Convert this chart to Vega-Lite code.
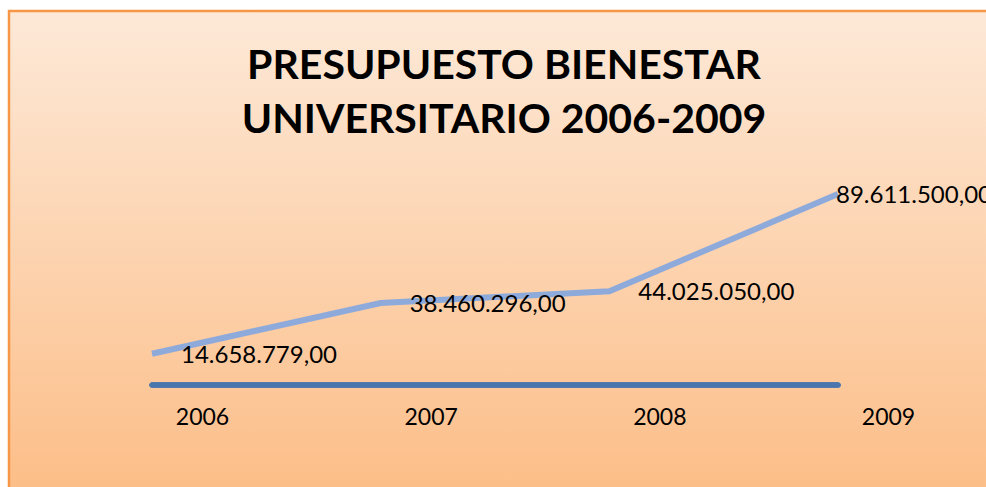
{
  "$schema": "https://vega.github.io/schema/vega-lite/v6.json",
  "width": 980,
  "height": 480,
  "autosize": "none",
  "padding": {"left": 9, "top": 11, "right": 0, "bottom": 0},
  "background": "white",
  "config": {
    "font": "Lato",
    "view": {
      "fill": {"gradient": "linear", "x1": 0, "y1": 0, "x2": 0, "y2": 1, "stops": [{"offset": 0, "color": "#FDE9D8"}, {"offset": 1, "color": "#FCBE88"}]},
      "stroke": "#F79646",
      "strokeWidth": 2.5
    },
    "locale": {"number": {"decimal": ",", "thousands": ".", "grouping": [3], "currency": ["", " €"]}}
  },
  "title": {
    "text": ["PRESUPUESTO BIENESTAR", "UNIVERSITARIO 2006-2009"],
    "fontSize": 41,
    "fontWeight": "bold",
    "font": "Lato",
    "color": "black",
    "lineHeight": 54,
    "anchor": "middle",
    "frame": "group",
    "baseline": "top",
    "offset": 0,
    "dy": 131,
    "dx": 5
  },
  "data": {
    "values": [
      {"year": 2006, "value": 14658779},
      {"year": 2007, "value": 38460296},
      {"year": 2008, "value": 44025050},
      {"year": 2009, "value": 89611500}
    ]
  },
  "encoding": {
    "x": {
      "field": "year",
      "type": "quantitative",
      "scale": {"domain": [2005.3746, 2009.6603], "nice": false, "zero": false},
      "axis": {
        "values": [2006, 2007, 2008, 2009],
        "format": "d",
        "title": null,
        "domain": false,
        "ticks": false,
        "tickSize": 0,
        "grid": false,
        "labelOffset": 50,
        "labelPadding": 0,
        "labelBaseline": "middle",
        "offset": -74,
        "labelFontSize": 23,
        "labelColor": "black",
        "labelFont": "Lato",
        "labelFlush": false,
        "labelOverlap": false
      }
    },
    "y": {
      "field": "value",
      "type": "quantitative",
      "scale": {"domain": [-49730000, 175470000], "nice": false, "zero": false},
      "axis": null
    }
  },
  "layer": [
    {
      "mark": {"type": "rule", "color": "#4A76AD", "strokeWidth": 5, "strokeCap": "round"},
      "encoding": {"x": {"datum": 2006}, "x2": {"datum": 2009}, "y": {"datum": 0}}
    },
    {
      "mark": {"type": "line", "color": "#8EAADB", "strokeWidth": 6}
    },
    {
      "transform": [{"filter": "datum.year < 2009"}],
      "mark": {"type": "text", "align": "left", "baseline": "middle", "dx": 29, "dy": 2, "fontSize": 24, "color": "black", "font": "Lato"},
      "encoding": {"text": {"field": "value", "type": "quantitative", "format": ",.2f"}}
    },
    {
      "transform": [{"filter": "datum.year == 2009"}],
      "mark": {"type": "text", "align": "left", "baseline": "middle", "dx": -2, "dy": 2, "fontSize": 24, "color": "black", "font": "Lato"},
      "encoding": {"text": {"field": "value", "type": "quantitative", "format": ",.2f"}}
    }
  ]
}
